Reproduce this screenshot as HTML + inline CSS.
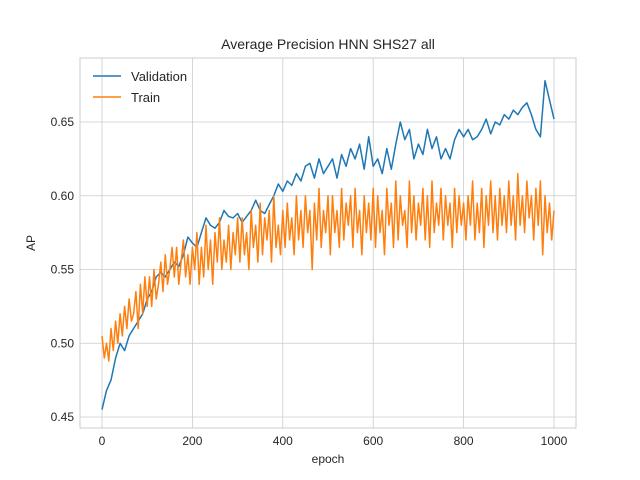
<!DOCTYPE html>
<html><head><meta charset="utf-8"><style>
body{margin:0;background:#fff;}
svg{display:block;font-family:"Liberation Sans","DejaVu Sans",sans-serif;}
</style></head><body>
<svg id="chart" width="640" height="480" viewBox="0 0 640 480">
<rect width="640" height="480" fill="#fff"/>
<text x="328" y="49" font-size="14" text-anchor="middle" fill="#262626">Average Precision HNN SHS27 all</text>
<g id="grid"></g>
<g id="series"></g>
<rect x="80" y="58" width="496" height="370" fill="none" stroke="#ccc" stroke-width="1"/>
<g id="ticks"></g>
<text x="328" y="463" font-size="12" text-anchor="middle" fill="#262626">epoch</text>
<text x="0" y="0" font-size="12" text-anchor="middle" fill="#262626" transform="translate(35,243) rotate(-90)">AP</text>
<g>
<line x1="93" y1="76" x2="121" y2="76" stroke="#1f77b4" stroke-width="1.5"/>
<text x="131" y="81" font-size="13" fill="#262626">Validation</text>
<line x1="93" y1="97" x2="121" y2="97" stroke="#ff7f0e" stroke-width="1.5"/>
<text x="131" y="102" font-size="13" fill="#262626">Train</text>
</g>
</svg>
<script>
const xTicks=[0,200,400,600,800,1000];
const yTicks=[0.45,0.50,0.55,0.60,0.65];
const yTickLabels=["0.45","0.50","0.55","0.60","0.65"];
const valStep=10;
const valValues=[.455,.468,.475,.49,.50,.495,.505,.51,.515,.52,.53,
.535,.545,.548,.545,.55,.555,.552,.56,.572,.568,
.565,.575,.585,.58,.578,.582,.59,.586,.585,.588,
.582,.586,.59,.597,.59,.588,.594,.6,.608,.603,
.61,.607,.615,.61,.62,.622,.612,.625,.615,.62,
.625,.612,.628,.62,.632,.625,.635,.618,.64,.62,
.625,.615,.632,.618,.635,.65,.638,.645,.625,.635,
.628,.645,.632,.64,.625,.632,.625,.638,.645,.64,
.645,.638,.64,.645,.652,.642,.65,.648,.655,.652,
.658,.655,.66,.663,.655,.645,.64,.678,.665,.652];
const trainStep=5;
const trainValues=[.505,.49,.50,.488,.51,.495,.515,.50,.52,.505,.525,.51,.53,.515,.52,.535,.51,.54,.52,.545,.525,
.545,.525,.55,.53,.54,.555,.535,.56,.54,.55,.565,.545,.565,.54,.555,.57,.545,.56,.54,.565,
.55,.575,.54,.565,.545,.58,.55,.57,.54,.575,.555,.585,.55,.57,.555,.58,.55,.575,.56,.585,
.555,.585,.56,.575,.55,.59,.565,.58,.555,.595,.56,.585,.57,.59,.555,.6,.565,.58,.56,.59,
.565,.595,.57,.585,.56,.6,.57,.59,.565,.6,.575,.59,.55,.595,.57,.605,.565,.59,.575,.6,
.56,.6,.575,.59,.565,.605,.57,.595,.58,.6,.565,.605,.575,.59,.56,.6,.575,.595,.57,.605,
.565,.6,.575,.59,.56,.605,.58,.595,.565,.61,.57,.6,.58,.59,.565,.61,.575,.6,.57,.595,
.58,.605,.57,.6,.565,.61,.575,.595,.58,.605,.57,.6,.58,.595,.565,.605,.575,.6,.58,.595,
.57,.6,.58,.61,.57,.595,.575,.605,.565,.6,.58,.61,.575,.6,.57,.605,.58,.6,.575,.61,
.58,.6,.57,.615,.58,.6,.575,.61,.585,.6,.57,.605,.58,.61,.56,.6,.575,.595,.57,.59];
const NS="http://www.w3.org/2000/svg";
function xs(v){return 102+v*(554-102)/1000;}
function ys(v){return 417-(v-0.45)*(417-122)/0.2;}
function mk(tag,attrs,parent){const e=document.createElementNS(NS,tag);for(const k in attrs)e.setAttribute(k,attrs[k]);parent.appendChild(e);return e;}
const grid=document.getElementById('grid'),ticks=document.getElementById('ticks'),series=document.getElementById('series');
xTicks.forEach(t=>{
  const g=mk('line',{x1:xs(t),x2:xs(t),y1:58,y2:428,stroke:'#ccc','stroke-width':0.8},grid);
  
  
  const l=mk('text',{x:xs(t),y:445,'font-size':12,'text-anchor':'middle',fill:'#262626'},ticks);
  l.textContent=String(t);
  
  
});
yTicks.forEach((t,i)=>{
  const g=mk('line',{x1:80,x2:576,y1:ys(t),y2:ys(t),stroke:'#ccc','stroke-width':0.8},grid);
  
  
  const l=mk('text',{x:74,y:ys(t)+4,'font-size':12,'text-anchor':'end',fill:'#262626'},ticks);
  l.textContent=yTickLabels[i];
  
  
});
function path(vals,step,color){
  const d=vals.map((v,i)=>(i?'L':'M')+xs(i*step).toFixed(1)+','+ys(v).toFixed(1)).join('');
  return mk('path',{d:d,fill:'none',stroke:color,'stroke-width':1.5,'stroke-linejoin':'round'},series);
}
const pv=path(valValues,valStep,'#1f77b4');


const pt=path(trainValues,trainStep,'#ff7f0e');


</script>
</body></html>
